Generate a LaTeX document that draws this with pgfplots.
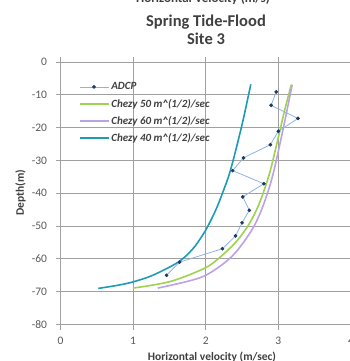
\documentclass[border=0pt]{standalone}
\usepackage{fontspec}
\setmainfont{Carlito}
\usepackage{pgfplots}
\pgfplotsset{compat=1.18}

\definecolor{gridgray}{HTML}{A0A0A0}
\definecolor{ticktext}{HTML}{595959}
\definecolor{titletext}{HTML}{404040}
\definecolor{chezyforty}{HTML}{1E9BB4}
\definecolor{chezyfifty}{HTML}{9ED24F}
\definecolor{chezysixty}{HTML}{BBA2E8}
\definecolor{adcpline}{HTML}{8DB3E2}
\definecolor{adcpmark}{HTML}{1F3864}

\pgfplotsset{
  dotline legend/.style={legend image code/.code={%
    \draw[##1, mark repeat=2, mark phase=2]
      plot coordinates {(0pt,0pt) (14.5pt,0pt) (29pt,0pt)};}},
}

\begin{document}
\begin{tikzpicture}
\useasboundingbox (0pt,0pt) rectangle (349pt,361pt);
\begin{axis}[
  at={(60.5pt,36.5pt)}, anchor=south west,
  scale only axis, width=290.5pt, height=262.5pt,
  xmin=0, xmax=4, ymin=-80, ymax=0,
  xtick={0,1,2,3,4}, ytick={0,-10,-20,-30,-40,-50,-60,-70,-80},
  grid=major,
  major grid style={draw=gridgray, line width=0.8pt},
  axis line style={draw=gridgray, line width=0.8pt},
  tick style={draw=gridgray, line width=0.8pt},
  tick align=outside, major tick length=5pt,
  /pgf/number format/assume math mode=true,
  ticklabel style={font=\fontsize{11.5}{13}\selectfont, text=ticktext},
  xticklabel style={yshift=-4pt},
  yticklabel style={xshift=-5pt},
  legend style={at={(0.062,0.93)}, anchor=north west, draw=none, fill=none,
    font=\fontsize{11}{12}\selectfont\bfseries\itshape, text=titletext,
    row sep=3.6pt, inner sep=0pt},
  legend cell align=left,
  legend image code/.code={%
    \draw[#1] (0pt,0pt) -- (29pt,0pt);},
]
% legend entries in the order of the key
\addlegendimage{adcpline, line width=0.8pt, mark=*, mark size=1.4pt,
  mark options={fill=adcpmark, draw=adcpmark}, dotline legend}
\addlegendentry{ADCP}
\addlegendimage{chezyfifty, line width=1.6pt}
\addlegendentry{Chezy 50 m\^{}(1/2)/sec}
\addlegendimage{chezysixty, line width=1.6pt}
\addlegendentry{Chezy 60 m\^{}(1/2)/sec}
\addlegendimage{chezyforty, line width=1.6pt}
\addlegendentry{Chezy 40 m\^{}(1/2)/sec}

% Chezy 50 profile
\addplot[chezyfifty, line width=1.6pt, smooth, tension=0.55, forget plot] coordinates {
  (1.00,-68.9) (1.51,-66.9) (1.97,-63.0) (2.17,-60.0) (2.41,-55.0)
  (2.58,-50.0) (2.70,-45.0) (2.79,-40.0) (2.89,-33.0) (3.02,-21.0)
  (3.10,-13.5) (3.18,-6.9)};
% Chezy 60 profile
\addplot[chezysixty, line width=1.6pt, smooth, tension=0.55, forget plot] coordinates {
  (1.34,-68.9) (1.74,-66.9) (2.00,-65.0) (2.27,-61.0) (2.45,-57.0)
  (2.64,-51.0) (2.75,-46.0) (2.85,-40.0) (2.94,-33.0) (3.06,-21.0)
  (3.13,-13.5) (3.19,-6.9)};
% Chezy 40 profile
\addplot[chezyforty, line width=1.6pt, smooth, tension=0.55, forget plot] coordinates {
  (0.52,-69.0) (0.80,-68.0) (1.00,-67.0) (1.27,-65.0) (1.62,-61.0)
  (1.82,-57.0) (1.95,-53.0) (2.03,-50.0) (2.14,-45.0) (2.23,-40.0)
  (2.34,-33.0) (2.49,-20.0) (2.58,-11.0) (2.62,-6.8)};
% ADCP measurements
\addplot[adcpline, line width=0.8pt, mark=*, mark size=1.4pt,
  mark options={fill=adcpmark, draw=adcpmark}, forget plot] coordinates {
  (2.97,-9.1) (2.90,-13.2) (3.27,-17.2) (3.00,-21.1) (2.89,-25.2)
  (2.52,-29.2) (2.37,-33.1) (2.80,-37.1) (2.51,-41.1) (2.60,-45.2)
  (2.50,-49.0) (2.41,-53.0) (2.23,-56.9) (1.64,-61.0) (1.46,-65.0)};
\end{axis}

% titles and axis labels
\node[font=\fontsize{13}{15}\selectfont\bfseries, text=titletext, anchor=base]
  at (203pt,358.5pt) {Horizontal Velocity (m/s)};
\node[font=\fontsize{16.5}{18.5}\selectfont\bfseries, text=titletext, align=center]
  at (206pt,331pt) {Spring Tide-Flood\\Site 3};
\node[font=\fontsize{11.5}{13}\selectfont\bfseries, text=titletext, rotate=90]
  at (20.5pt,168pt) {Depth(m)};
\node[font=\fontsize{11.5}{13}\selectfont\bfseries, text=titletext, anchor=base]
  at (212pt,1pt) {Horizontal velocity (m/sec)};
\end{tikzpicture}
\end{document}
